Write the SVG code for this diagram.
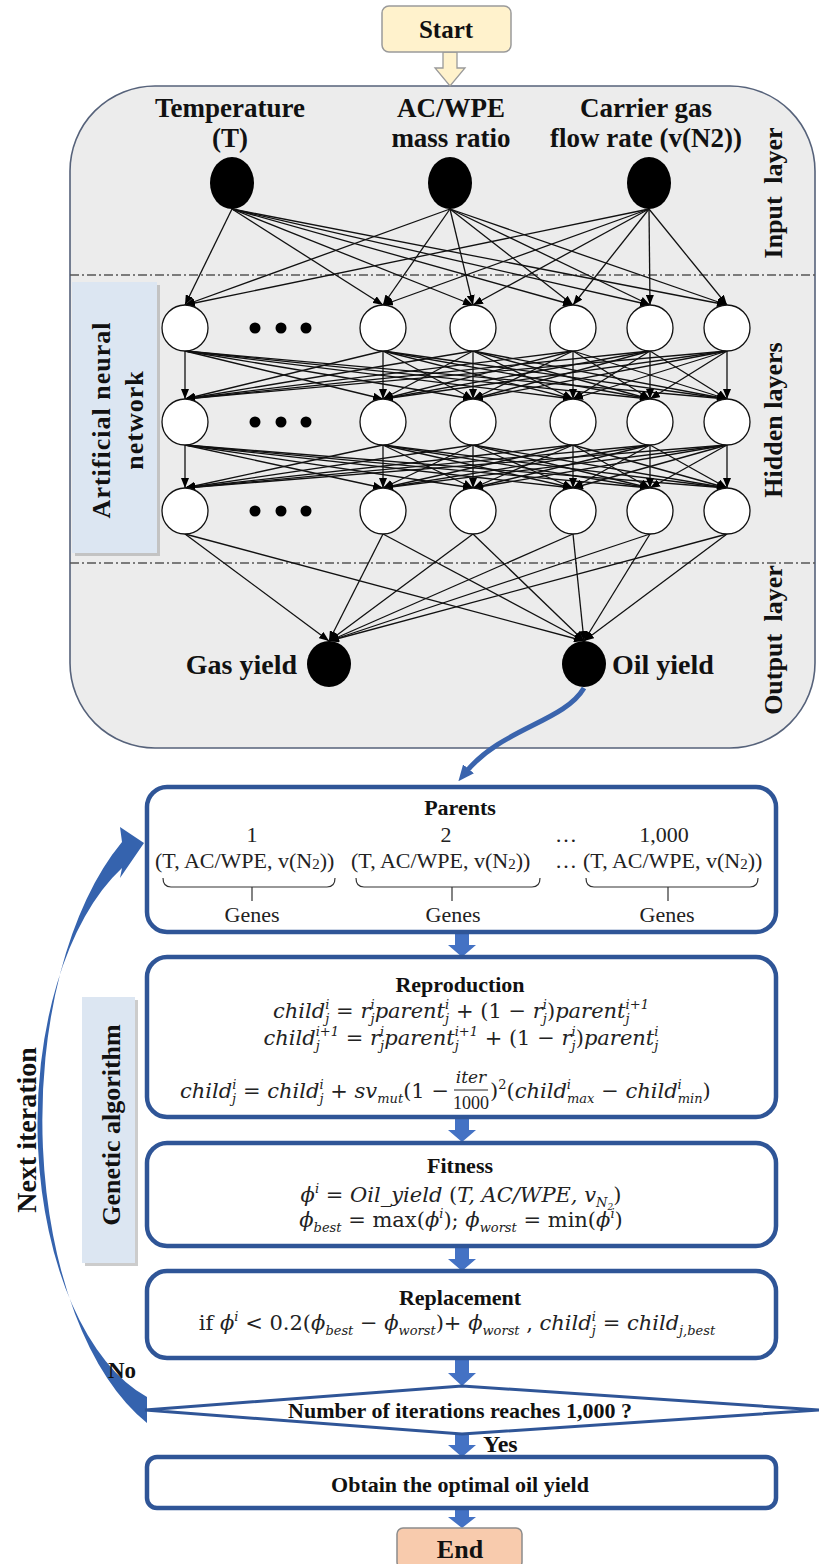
<svg xmlns="http://www.w3.org/2000/svg" width="819" height="1564" viewBox="0 0 819 1564">
<defs>
<style>
.tb{font-family:"Liberation Serif","Times New Roman",serif;font-weight:bold;fill:#111}
.tr{font-family:"Liberation Serif","Times New Roman",serif;fill:#222}
.m{font-family:"DejaVu Serif",serif;font-style:italic;font-size:21px;fill:#222}
.u{font-style:normal}
.s{font-size:13px}
.box{fill:#fff;stroke:#2f5597;stroke-width:4.5}
.ln line{stroke:#111;stroke-width:1.3;marker-end:url(#ah)}
.dd{stroke:#555;stroke-width:1.3;stroke-dasharray:9 3 2 3}
.hn{fill:#fff;stroke:#111;stroke-width:1.3}
.ba{fill:#4472c4}
.br{fill:none;stroke:#333;stroke-width:1.2}
</style>
<marker id="ah" markerUnits="userSpaceOnUse" markerWidth="10" markerHeight="8" refX="10" refY="4" orient="auto"><path d="M0,0 L10,4 L0,8 z" fill="#000"/></marker>
<marker id="bh" markerUnits="userSpaceOnUse" markerWidth="16" markerHeight="14" refX="4" refY="7" orient="auto"><path d="M0,0 L16,7 L0,14 z" fill="#3a64ad"/></marker>
</defs>

<g id="ann-panel">
<rect x="70" y="86" width="745" height="662" rx="85" fill="#ececec" stroke="#56627a" stroke-width="1.6"/>
<line class="dd" x1="70" y1="275" x2="815" y2="275"/>
<line class="dd" x1="70" y1="563" x2="815" y2="563"/>
</g>

<g id="ann-label">
<rect x="75" y="285" width="85" height="271" fill="#9a9a9a" opacity="0.5"/>
<rect x="72" y="282" width="85" height="271" fill="#dce6f2"/>
<text class="tb" font-size="26" letter-spacing="1" text-anchor="middle" transform="translate(110,420) rotate(-90)">Artificial neural</text>
<text class="tb" font-size="26" letter-spacing="1" text-anchor="middle" transform="translate(143,420) rotate(-90)">network</text>
</g>

<g id="layer-labels">
<text class="tb" font-size="26" word-spacing="6" text-anchor="middle" transform="translate(782,193) rotate(-90)">Input layer</text>
<text class="tb" font-size="26" text-anchor="middle" transform="translate(782,420) rotate(-90)">Hidden layers</text>
<text class="tb" font-size="26" word-spacing="6" text-anchor="middle" transform="translate(782,640) rotate(-90)">Output layer</text>
</g>

<g id="ga-label">
<rect x="85" y="1000" width="53" height="266" fill="#9a9a9a" opacity="0.5"/>
<rect x="82" y="997" width="53" height="266" fill="#dce6f2"/>
<text class="tb" font-size="26" text-anchor="middle" transform="translate(120,1125) rotate(-90)">Genetic algorithm</text>
</g>

<g id="connectors">
<polygon points="443,52 457,52 457,68 465,68 450,86 435,68 443,68" fill="#fff2cc" stroke="#9a9a9a" stroke-width="1.3"/>
<g class="ln">
<line x1="232" y1="209" x2="185" y2="305"/><line x1="232" y1="209" x2="383" y2="305"/><line x1="232" y1="209" x2="473" y2="305"/><line x1="232" y1="209" x2="573" y2="305"/><line x1="232" y1="209" x2="650" y2="305"/><line x1="232" y1="209" x2="727" y2="305"/>
<line x1="450" y1="209" x2="185" y2="305"/><line x1="450" y1="209" x2="383" y2="305"/><line x1="450" y1="209" x2="473" y2="305"/><line x1="450" y1="209" x2="573" y2="305"/><line x1="450" y1="209" x2="650" y2="305"/><line x1="450" y1="209" x2="727" y2="305"/>
<line x1="649" y1="209" x2="185" y2="305"/><line x1="649" y1="209" x2="383" y2="305"/><line x1="649" y1="209" x2="473" y2="305"/><line x1="649" y1="209" x2="573" y2="305"/><line x1="649" y1="209" x2="650" y2="305"/><line x1="649" y1="209" x2="727" y2="305"/>

<line x1="185" y1="351" x2="185" y2="399"/><line x1="185" y1="351" x2="383" y2="399"/><line x1="185" y1="351" x2="473" y2="399"/><line x1="185" y1="351" x2="573" y2="399"/><line x1="185" y1="351" x2="650" y2="399"/><line x1="185" y1="351" x2="727" y2="399"/>
<line x1="383" y1="351" x2="185" y2="399"/><line x1="383" y1="351" x2="383" y2="399"/><line x1="383" y1="351" x2="473" y2="399"/><line x1="383" y1="351" x2="573" y2="399"/><line x1="383" y1="351" x2="650" y2="399"/><line x1="383" y1="351" x2="727" y2="399"/>
<line x1="473" y1="351" x2="185" y2="399"/><line x1="473" y1="351" x2="383" y2="399"/><line x1="473" y1="351" x2="473" y2="399"/><line x1="473" y1="351" x2="573" y2="399"/><line x1="473" y1="351" x2="650" y2="399"/><line x1="473" y1="351" x2="727" y2="399"/>
<line x1="573" y1="351" x2="185" y2="399"/><line x1="573" y1="351" x2="383" y2="399"/><line x1="573" y1="351" x2="473" y2="399"/><line x1="573" y1="351" x2="573" y2="399"/><line x1="573" y1="351" x2="650" y2="399"/><line x1="573" y1="351" x2="727" y2="399"/>
<line x1="650" y1="351" x2="185" y2="399"/><line x1="650" y1="351" x2="383" y2="399"/><line x1="650" y1="351" x2="473" y2="399"/><line x1="650" y1="351" x2="573" y2="399"/><line x1="650" y1="351" x2="650" y2="399"/><line x1="650" y1="351" x2="727" y2="399"/>
<line x1="727" y1="351" x2="185" y2="399"/><line x1="727" y1="351" x2="383" y2="399"/><line x1="727" y1="351" x2="473" y2="399"/><line x1="727" y1="351" x2="573" y2="399"/><line x1="727" y1="351" x2="650" y2="399"/><line x1="727" y1="351" x2="727" y2="399"/>

<line x1="185" y1="445" x2="185" y2="488"/><line x1="185" y1="445" x2="383" y2="488"/><line x1="185" y1="445" x2="473" y2="488"/><line x1="185" y1="445" x2="573" y2="488"/><line x1="185" y1="445" x2="650" y2="488"/><line x1="185" y1="445" x2="727" y2="488"/>
<line x1="383" y1="445" x2="185" y2="488"/><line x1="383" y1="445" x2="383" y2="488"/><line x1="383" y1="445" x2="473" y2="488"/><line x1="383" y1="445" x2="573" y2="488"/><line x1="383" y1="445" x2="650" y2="488"/><line x1="383" y1="445" x2="727" y2="488"/>
<line x1="473" y1="445" x2="185" y2="488"/><line x1="473" y1="445" x2="383" y2="488"/><line x1="473" y1="445" x2="473" y2="488"/><line x1="473" y1="445" x2="573" y2="488"/><line x1="473" y1="445" x2="650" y2="488"/><line x1="473" y1="445" x2="727" y2="488"/>
<line x1="573" y1="445" x2="185" y2="488"/><line x1="573" y1="445" x2="383" y2="488"/><line x1="573" y1="445" x2="473" y2="488"/><line x1="573" y1="445" x2="573" y2="488"/><line x1="573" y1="445" x2="650" y2="488"/><line x1="573" y1="445" x2="727" y2="488"/>
<line x1="650" y1="445" x2="185" y2="488"/><line x1="650" y1="445" x2="383" y2="488"/><line x1="650" y1="445" x2="473" y2="488"/><line x1="650" y1="445" x2="573" y2="488"/><line x1="650" y1="445" x2="650" y2="488"/><line x1="650" y1="445" x2="727" y2="488"/>
<line x1="727" y1="445" x2="185" y2="488"/><line x1="727" y1="445" x2="383" y2="488"/><line x1="727" y1="445" x2="473" y2="488"/><line x1="727" y1="445" x2="573" y2="488"/><line x1="727" y1="445" x2="650" y2="488"/><line x1="727" y1="445" x2="727" y2="488"/>

<line x1="185" y1="534" x2="329" y2="641"/><line x1="383" y1="534" x2="329" y2="641"/><line x1="473" y1="534" x2="329" y2="641"/><line x1="573" y1="534" x2="329" y2="641"/><line x1="650" y1="534" x2="329" y2="641"/><line x1="727" y1="534" x2="329" y2="641"/>
<line x1="185" y1="534" x2="584" y2="641"/><line x1="383" y1="534" x2="584" y2="641"/><line x1="473" y1="534" x2="584" y2="641"/><line x1="573" y1="534" x2="584" y2="641"/><line x1="650" y1="534" x2="584" y2="641"/><line x1="727" y1="534" x2="584" y2="641"/>
</g>
<path d="M584,688 C564,722 502,728 466,772" fill="none" stroke="#3a64ad" stroke-width="5" marker-end="url(#bh)"/>
<path d="M147,1423 A168,327 0 0 1 122,842 L120,827 L144,843 L120,878 L122,868 A152,285 0 0 0 147,1397 Z" fill="#3563ae"/>
<polygon class="ba" points="455,934 469,934 469,945 476,945 462,957 448,945 455,945"/>
<polygon class="ba" points="455,1117 469,1117 469,1130 476,1130 462,1142 448,1130 455,1130"/>
<polygon class="ba" points="455,1246 469,1246 469,1259 476,1259 462,1271 448,1259 455,1259"/>
<polygon class="ba" points="455,1358 469,1358 469,1373 476,1373 462,1386 448,1373 455,1373"/>
<polygon class="ba" points="455,1434 469,1434 469,1445 476,1445 462,1457 448,1445 455,1445"/>
<polygon class="ba" points="455,1508 469,1508 469,1517 476,1517 462,1528 448,1517 455,1517"/>
<text class="tb" font-size="23" x="108" y="1378">No</text>
<text class="tb" font-size="24" x="483" y="1452">Yes</text>
<text class="tb" font-size="28" text-anchor="middle" transform="translate(36,1130) rotate(-90)">Next iteration</text>
</g>

<g id="start">
<rect x="382" y="6" width="129" height="46" rx="7" fill="#fff2cc" stroke="#9a9a9a" stroke-width="1.5"/>
<text class="tb" font-size="25" x="446" y="38" text-anchor="middle">Start</text>
</g>

<g id="in-T">
<text class="tb" font-size="27" x="230" y="117" text-anchor="middle">Temperature</text>
<text class="tb" font-size="27" x="230" y="147" text-anchor="middle">(T)</text>
<ellipse cx="232" cy="183" rx="22" ry="26" fill="#000"/>
</g>
<g id="in-ratio">
<text class="tb" font-size="27" x="451" y="117" text-anchor="middle">AC/WPE</text>
<text class="tb" font-size="27" x="451" y="147" text-anchor="middle">mass ratio</text>
<ellipse cx="450" cy="183" rx="22" ry="26" fill="#000"/>
</g>
<g id="in-flow">
<text class="tb" font-size="27" x="646" y="117" text-anchor="middle">Carrier gas</text>
<text class="tb" font-size="27" x="646" y="147" text-anchor="middle">flow rate (v(N2))</text>
<ellipse cx="649" cy="183" rx="22" ry="26" fill="#000"/>
</g>

<g id="hidden-1">
<g id="h1-1"><circle class="hn" cx="185" cy="328" r="23"/></g>
<g id="h1-dots"><circle cx="255" cy="328" r="5.5"/><circle cx="281" cy="328" r="5.5"/><circle cx="306" cy="328" r="5.5"/></g>
<g id="h1-2"><circle class="hn" cx="383" cy="328" r="23"/></g>
<g id="h1-3"><circle class="hn" cx="473" cy="328" r="23"/></g>
<g id="h1-4"><circle class="hn" cx="573" cy="328" r="23"/></g>
<g id="h1-5"><circle class="hn" cx="650" cy="328" r="23"/></g>
<g id="h1-6"><circle class="hn" cx="727" cy="328" r="23"/></g>
</g>
<g id="hidden-2">
<g id="h2-1"><circle class="hn" cx="185" cy="422" r="23"/></g>
<g id="h2-dots"><circle cx="255" cy="422" r="5.5"/><circle cx="281" cy="422" r="5.5"/><circle cx="306" cy="422" r="5.5"/></g>
<g id="h2-2"><circle class="hn" cx="383" cy="422" r="23"/></g>
<g id="h2-3"><circle class="hn" cx="473" cy="422" r="23"/></g>
<g id="h2-4"><circle class="hn" cx="573" cy="422" r="23"/></g>
<g id="h2-5"><circle class="hn" cx="650" cy="422" r="23"/></g>
<g id="h2-6"><circle class="hn" cx="727" cy="422" r="23"/></g>
</g>
<g id="hidden-3">
<g id="h3-1"><circle class="hn" cx="185" cy="511" r="23"/></g>
<g id="h3-dots"><circle cx="255" cy="511" r="5.5"/><circle cx="281" cy="511" r="5.5"/><circle cx="306" cy="511" r="5.5"/></g>
<g id="h3-2"><circle class="hn" cx="383" cy="511" r="23"/></g>
<g id="h3-3"><circle class="hn" cx="473" cy="511" r="23"/></g>
<g id="h3-4"><circle class="hn" cx="573" cy="511" r="23"/></g>
<g id="h3-5"><circle class="hn" cx="650" cy="511" r="23"/></g>
<g id="h3-6"><circle class="hn" cx="727" cy="511" r="23"/></g>
</g>

<g id="out-gas">
<ellipse cx="329" cy="664" rx="22" ry="23" fill="#000"/>
<text class="tb" font-size="28" x="297" y="674" text-anchor="end">Gas yield</text>
</g>
<g id="out-oil">
<ellipse cx="584" cy="664" rx="22" ry="23" fill="#000"/>
<text class="tb" font-size="28" x="612" y="674">Oil yield</text>
</g>

<g id="parents">
<rect class="box" x="147" y="787" width="629" height="145" rx="20"/>
<text class="tb" font-size="22" x="460" y="815" text-anchor="middle">Parents</text>
<text class="tr" font-size="22" x="252" y="842" text-anchor="middle">1</text>
<text class="tr" font-size="22" x="446" y="842" text-anchor="middle">2</text>
<text class="tr" font-size="22" x="566" y="842" text-anchor="middle">…</text>
<text class="tr" font-size="22" x="664" y="842" text-anchor="middle">1,000</text>
<text class="tr" font-size="22" x="155" y="868">(T, AC/WPE, v(N<tspan font-size="15" dy="1">2</tspan><tspan dy="-1">))</tspan></text>
<text class="tr" font-size="22" x="351" y="868">(T, AC/WPE, v(N<tspan font-size="15" dy="1">2</tspan><tspan dy="-1">))</tspan></text>
<text class="tr" font-size="22" x="566" y="868" text-anchor="middle">…</text>
<text class="tr" font-size="22" x="583" y="868">(T, AC/WPE, v(N<tspan font-size="15" dy="1">2</tspan><tspan dy="-1">))</tspan></text>
<path class="br" d="M163,878 Q163,887 171,887 L327,887 Q335,887 335,878 M252,887 L252,901"/>
<path class="br" d="M356,878 Q356,887 364,887 L532,887 Q540,887 540,878 M452,887 L452,901"/>
<path class="br" d="M586,878 Q586,887 594,887 L750,887 Q758,887 758,878 M668,887 L668,901"/>
<text class="tr" font-size="22" x="252" y="922" text-anchor="middle">Genes</text>
<text class="tr" font-size="22" x="453" y="922" text-anchor="middle">Genes</text>
<text class="tr" font-size="22" x="667" y="922" text-anchor="middle">Genes</text>
</g>

<g id="reproduction">
<rect class="box" x="147" y="957" width="629" height="160" rx="20"/>
<text class="tb" font-size="22" x="460" y="992" text-anchor="middle">Reproduction</text>
<text class="m" x="461" y="1018" text-anchor="middle">child<tspan class="s" dy="5">j</tspan><tspan class="s" dx="-4" dy="-14">i</tspan><tspan class="u" dy="9"> = </tspan>r<tspan class="s" dy="5">j</tspan><tspan class="s" dx="-4" dy="-14">i</tspan><tspan dy="9">parent</tspan><tspan class="s" dy="5">j</tspan><tspan class="s" dx="-4" dy="-14">i</tspan><tspan class="u" dy="9"> + (1 − </tspan>r<tspan class="s" dy="5">j</tspan><tspan class="s" dx="-4" dy="-14">i</tspan><tspan class="u" dy="9">)</tspan>parent<tspan class="s" dy="5">j</tspan><tspan class="s" dx="-4" dy="-14">i+1</tspan></text>
<text class="m" x="461" y="1045" text-anchor="middle">child<tspan class="s" dy="5">j</tspan><tspan class="s" dx="-4" dy="-14">i+1</tspan><tspan class="u" dy="9"> = </tspan>r<tspan class="s" dy="5">j</tspan><tspan class="s" dx="-4" dy="-14">i</tspan><tspan dy="9">parent</tspan><tspan class="s" dy="5">j</tspan><tspan class="s" dx="-4" dy="-14">i+1</tspan><tspan class="u" dy="9"> + (1 − </tspan>r<tspan class="s" dy="5">j</tspan><tspan class="s" dx="-4" dy="-14">i</tspan><tspan class="u" dy="9">)</tspan>parent<tspan class="s" dy="5">j</tspan><tspan class="s" dx="-4" dy="-14">i</tspan></text>
<text class="m" x="449" y="1098" text-anchor="end">child<tspan class="s" dy="5">j</tspan><tspan class="s" dx="-4" dy="-14">i</tspan><tspan class="u" dy="9"> = </tspan>child<tspan class="s" dy="5">j</tspan><tspan class="s" dx="-4" dy="-14">i</tspan><tspan class="u" dy="9"> + </tspan>sv<tspan class="s" dy="5">mut</tspan><tspan class="u" dy="-5">(1 −</tspan></text>
<text class="m" x="471" y="1083" text-anchor="middle" style="font-size:17px">iter</text>
<line x1="454" y1="1090" x2="488" y2="1090" stroke="#222" stroke-width="1.2"/>
<text class="tr" x="471" y="1109" text-anchor="middle" font-size="18">1000</text>
<text class="m" x="490" y="1098"><tspan class="u">)</tspan><tspan class="s u" dy="-9">2</tspan><tspan class="u" dy="9">(</tspan>child<tspan class="s" dy="-9">i</tspan><tspan class="s" dx="-4" dy="14">max</tspan><tspan class="u" dy="-5"> − </tspan>child<tspan class="s" dy="-9">i</tspan><tspan class="s" dx="-4" dy="14">min</tspan><tspan class="u" dy="-5">)</tspan></text>
</g>

<g id="fitness">
<rect class="box" x="147" y="1143" width="629" height="103" rx="20"/>
<text class="tb" font-size="22" x="460" y="1173" text-anchor="middle">Fitness</text>
<text class="m" x="461" y="1202" text-anchor="middle">ϕ<tspan class="s" dy="-9">i</tspan><tspan class="u" dy="9"> = </tspan>Oil_yield <tspan class="u">(</tspan>T, AC/WPE, v<tspan class="s" dy="5">N</tspan><tspan style="font-size:9px" dy="3">2</tspan><tspan class="u" dy="-8">)</tspan></text>
<text class="m" x="461" y="1227" text-anchor="middle">ϕ<tspan class="s" dy="5">best</tspan><tspan class="u" dy="-5"> = max(</tspan>ϕ<tspan class="s" dy="-9">i</tspan><tspan class="u" dy="9">); </tspan>ϕ<tspan class="s" dy="5">worst</tspan><tspan class="u" dy="-5"> = min(</tspan>ϕ<tspan class="s" dy="-9">i</tspan><tspan class="u" dy="9">)</tspan></text>
</g>

<g id="replacement">
<rect class="box" x="147" y="1271" width="629" height="87" rx="20"/>
<text class="tb" font-size="22" x="460" y="1305" text-anchor="middle">Replacement</text>
<text class="m" x="457" y="1330" text-anchor="middle"><tspan class="u">if </tspan>ϕ<tspan class="s" dy="-9">i</tspan><tspan class="u" dy="9"> &lt; 0.2(</tspan>ϕ<tspan class="s" dy="5">best</tspan><tspan class="u" dy="-5"> − </tspan>ϕ<tspan class="s" dy="5">worst</tspan><tspan class="u" dy="-5">)+ </tspan>ϕ<tspan class="s" dy="5">worst</tspan><tspan class="u" dy="-5"> , </tspan>child<tspan class="s" dy="5">j</tspan><tspan class="s" dx="-4" dy="-14">i</tspan><tspan class="u" dy="9"> = </tspan>child<tspan class="s" dy="5">j,best</tspan></text>
</g>

<g id="decision">
<polygon points="462,1386 819,1410 462,1434 145,1410" fill="#fff" stroke="#2f5597" stroke-width="3"/>
<text class="tb" font-size="22" x="460" y="1418" text-anchor="middle">Number of iterations reaches 1,000 ?</text>
</g>

<g id="obtain">
<rect class="box" x="147" y="1457" width="629" height="51" rx="10"/>
<text class="tb" font-size="22" x="460" y="1492" text-anchor="middle">Obtain the optimal oil yield</text>
</g>

<g id="end">
<rect x="397" y="1528" width="125" height="40" rx="6" fill="#f8cbad" stroke="#8c8c8c" stroke-width="1.5"/>
<text class="tb" font-size="26" x="460" y="1558" text-anchor="middle">End</text>
</g>
</svg>
